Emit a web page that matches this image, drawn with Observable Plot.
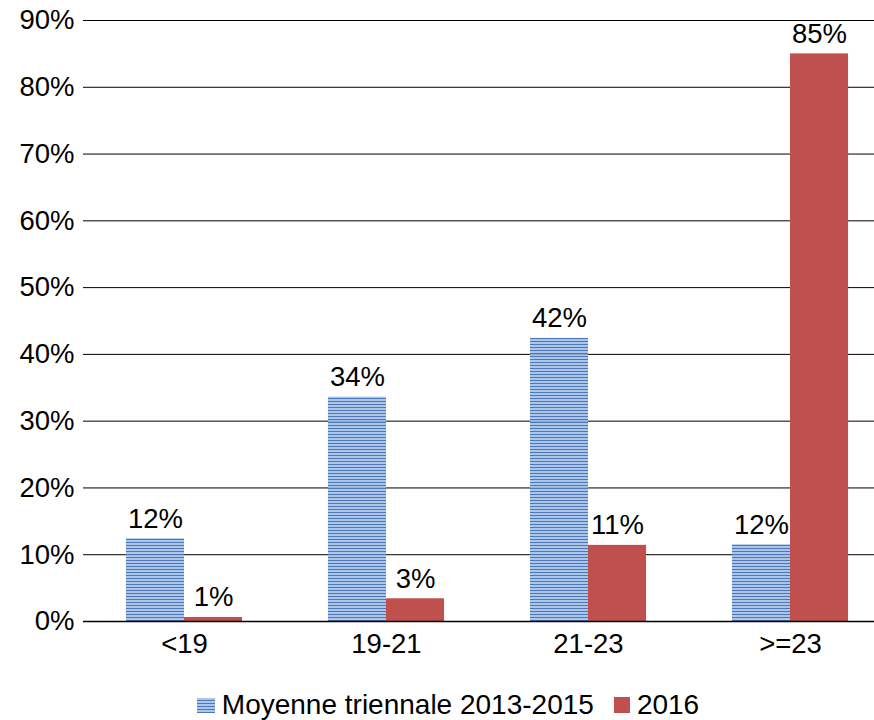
<!DOCTYPE html>
<html><head><meta charset="utf-8">
<script src="https://cdn.jsdelivr.net/npm/d3@7"></script>
<script src="https://cdn.jsdelivr.net/npm/@observablehq/plot@0.6"></script>
<style>
body{margin:0;background:#fff;font-family:"Liberation Sans",Arial,sans-serif;}
#legend{display:flex;justify-content:center;align-items:center;height:48px;margin-top:9px;font-size:28px;color:#000;padding-left:22px}
.sw{display:inline-block;width:18px;height:15px;margin-right:7px}
.item{display:flex;align-items:center;margin:0 10px}
</style></head><body>
<div id="chart"></div>
<div id="legend">
  <span class="item"><svg class="sw" width="18" height="15"><rect width="18" height="15" fill="url(#stripes)"/></svg>Moyenne triennale 2013-2015</span>
  <span class="item"><span class="sw" style="background:#c0504d;width:16px;height:16px"></span>2016</span>
</div>
<script>
const categories = ["<19", "19-21", "21-23", ">=23"];
const seriesNames = ["Moyenne triennale 2013-2015", "2016"];
const moyenne = [0.124, 0.336, 0.424, 0.115];
const an2016 = [0.006, 0.034, 0.114, 0.850];
const yTicks = [0, 0.1, 0.2, 0.3, 0.4, 0.5, 0.6, 0.7, 0.8, 0.9];

const data = [];
categories.forEach((c, i) => {
  data.push({cat: c, series: seriesNames[0], value: moyenne[i]});
  data.push({cat: c, series: seriesNames[1], value: an2016[i]});
});

const fmt = d3.format(".0%");
const plot = Plot.plot({
  width: 874,
  height: 672,
  marginLeft: 83,
  marginRight: -17,
  marginTop: 20,
  marginBottom: 51,
  style: {fontFamily: "'Liberation Sans', Arial, sans-serif", fontSize: "27.5px", color: "#000", background: "#fff", overflow: "hidden"},
  fx: {domain: categories, padding: 0, round: false, label: null},
  x: {domain: seriesNames, paddingInner: 0, paddingOuter: 0.74, round: false, axis: null},
  y: {domain: [0, 0.9], label: null},
  color: {domain: seriesNames, range: ["url(#stripes)", "#c0504d"]},
  marks: [
    Plot.ruleY(yTicks.slice(1), {stroke: "#000", strokeWidth: 1}),
    Plot.barY(data, {fx: "cat", x: "series", y: "value", fill: "series"}),
    Plot.ruleY([0], {stroke: "#000", strokeWidth: 1.3}),
    Plot.text(data, {fx: "cat", x: "series", y: "value", text: d => fmt(d.value), lineAnchor: "bottom", dy: -11, fontSize: 27.5, fill: "#000"}),
    Plot.axisY({ticks: yTicks, tickFormat: fmt, tickSize: 0, tickPadding: 9, fontSize: 27.5, label: null}),
    Plot.axisFx({anchor: "bottom", tickSize: 0, tickPadding: 12, fontSize: 27.5, label: null})
  ]
});

// striped pattern definition
const ns = "http://www.w3.org/2000/svg";
const defs = document.createElementNS(ns, "defs");
defs.innerHTML = `<pattern id="stripes" patternUnits="userSpaceOnUse" width="6" height="3">
  <rect width="6" height="3" fill="#9fbbe2" fill-opacity="0.85"/>
  <rect y="2" width="6" height="1" fill="#4a78ba"/>
</pattern>`;
plot.insertBefore(defs, plot.firstChild);
document.getElementById("chart").appendChild(plot);
</script>
</body></html>
